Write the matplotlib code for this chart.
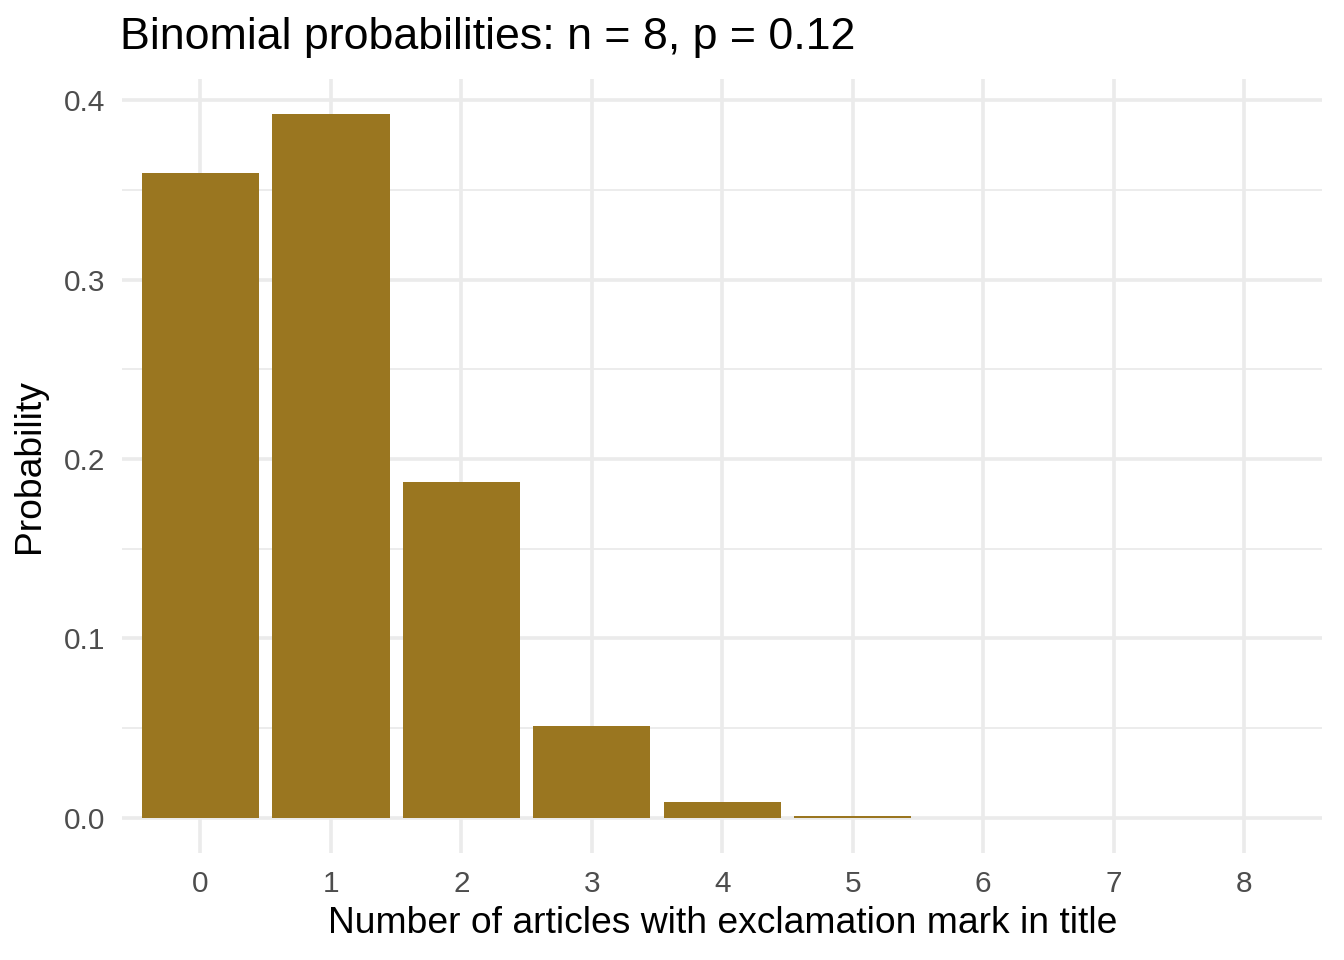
import matplotlib
matplotlib.use("Agg")
import matplotlib.pyplot as plt
from matplotlib.ticker import MultipleLocator

# values
counts = [0, 1, 2, 3, 4, 5, 6, 7, 8]
probs = [0.3596, 0.3923, 0.1872, 0.0510, 0.0087, 0.00095, 0.000065, 0.0000025, 0.00000004]
y_ticks = [0.0, 0.1, 0.2, 0.3, 0.4]

BAR_COLOR = "#9A7620"
GRID = "#EBEBEB"

plt.rcParams["font.family"] = ["Liberation Sans", "DejaVu Sans"]

fig = plt.figure(figsize=(6.72, 4.8), dpi=200)
ax = fig.add_axes([0.0908, 0.1115, 0.984 - 0.0908, 0.918 - 0.1115])

ax.bar(counts, probs, width=0.9, color=BAR_COLOR, zorder=3)

ax.set_xlim(-0.6, 8.6)
ax.set_ylim(-0.0196, 0.412)
ax.set_xticks(counts)
ax.set_yticks(y_ticks)
ax.set_yticklabels([f"{v:.1f}" for v in y_ticks])
ax.yaxis.set_minor_locator(MultipleLocator(0.05))

ax.grid(True, which="major", color=GRID, linewidth=1.3, zorder=0)
ax.grid(True, which="minor", axis="y", color=GRID, linewidth=0.65, zorder=0)
ax.set_axisbelow(True)
for s in ax.spines.values():
    s.set_visible(False)
ax.tick_params(which="both", length=0, labelsize=10.7, labelcolor="#4D4D4D", pad=6)

ax.set_xlabel("Number of articles with exclamation mark in title", fontsize=13.4, labelpad=3)
ax.set_ylabel("Probability", fontsize=13.4, labelpad=6)
fig.text(0.0893, 0.961, "Binomial probabilities: n = 8, p = 0.12", fontsize=16.1,
         ha="left", va="center")

fig.savefig("out.png", dpi=200)
